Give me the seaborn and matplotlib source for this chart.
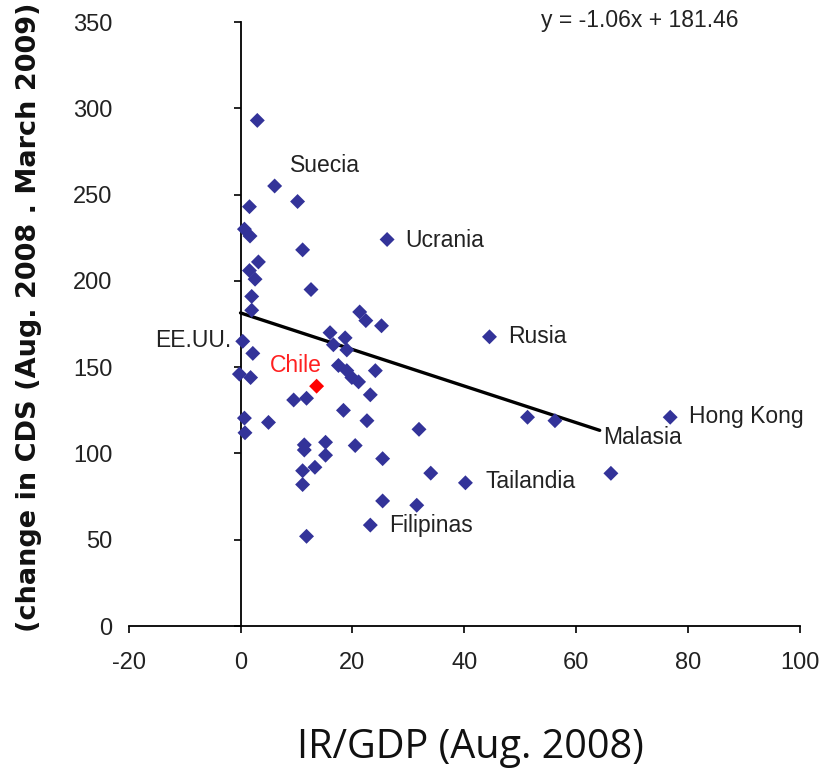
import matplotlib
matplotlib.use("Agg")
import matplotlib.pyplot as plt
import seaborn as sns
import pandas as pd

# ---- data ----
ir_gdp = [3.0, 6.1, 10.2, 1.6, 0.7, 1.7, 26.2, 11.1, 3.2, 1.6, 2.6, 12.6, 2.0, 2.0,
          21.3, 22.4, 25.2, 16.0, 18.7, 16.6, 19.0, 0.4, 2.2, -0.2, 1.8, 17.5, 19.0,
          19.9, 21.1, 24.1, 9.5, 11.8, 23.2, 18.4, 0.7, 5.0, 22.6, 0.8, 31.9, 11.4,
          11.4, 15.2, 15.2, 20.5, 25.4, 34.0, 13.3, 11.1, 11.1, 25.4, 31.5, 23.2,
          11.8, 44.5, 51.3, 56.2, 40.2, 66.2, 76.8]
cds_change = [293, 255, 246, 243, 230, 226, 224, 218, 211, 206, 201, 195, 191, 183,
              182, 177, 174, 170, 167, 163, 160, 165, 158, 146, 144, 151, 148,
              144, 141.5, 148, 131, 132, 134, 125, 120.5, 118, 119, 112, 114, 105,
              102, 106.5, 99, 104.6, 97, 88.6, 92, 90, 82, 72.5, 70, 58.5,
              52, 167.6, 121, 119, 83, 88.5, 121]
chile_x = [13.6]
chile_y = [139]

label_names = ["Suecia", "Ucrania", "EE.UU.", "Rusia", "Hong Kong", "Malasia",
               "Tailandia", "Filipinas"]
label_x = [8.9, 29.5, -1.6, 47.9, 80.2, 64.8, 43.75, 26.6]
label_y = [267, 223.6, 165.7, 168, 121.7, 109, 84, 58.5]
label_ha = ["left", "left", "right", "left", "left", "left", "left", "left"]

slope, intercept = -1.06, 181.46
trend_x = [0, 64.2]
trend_y = [slope * v + intercept for v in trend_x]

x_ticks = [-20, 0, 20, 40, 60, 80, 100]
y_ticks = [0, 50, 100, 150, 200, 250, 300, 350]

# ---- style ----
sns.set_style("white")
plt.rcParams["font.family"] = ["Liberation Sans", "DejaVu Sans"]

fig = plt.figure(figsize=(8.25, 7.71), dpi=100)
ax = fig.add_axes([0.1559, 0.188, 0.8138, 0.7834])

df = pd.DataFrame({"x": ir_gdp, "y": cds_change})
sns.scatterplot(data=df, x="x", y="y", marker="D", s=58, color="#333399",
                edgecolor="none", ax=ax, zorder=3)
sns.scatterplot(x=chile_x, y=chile_y, marker="D", s=58, color="#FF0000",
                edgecolor="none", ax=ax, zorder=4)
sns.lineplot(x=trend_x, y=trend_y, color="black", linewidth=2.4, ax=ax, zorder=2)

for name, lx, ly, ha in zip(label_names, label_x, label_y, label_ha):
    ax.text(lx, ly, name, ha=ha, va="center", fontsize=16.5, color="#222222")
ax.text(9.8, 151, "Chile", ha="center", va="center", fontsize=16.5, color="#FF2020")
ax.text(71.3, 351, "y = -1.06x + 181.46", ha="center", va="center", fontsize=16.5,
        color="#222222")

ax.set_xlim(-20, 100)
ax.set_ylim(0, 350)
ax.set_xticks(x_ticks)
ax.set_yticks(y_ticks)
ax.set_xticklabels([str(t) for t in x_ticks])
ax.set_yticklabels([str(t) for t in y_ticks])

for s in ["top", "right"]:
    ax.spines[s].set_visible(False)
ax.spines["left"].set_position(("data", 0))
ax.spines["left"].set_color("black")
ax.spines["bottom"].set_color("black")
ax.spines["left"].set_linewidth(1.3)
ax.spines["bottom"].set_linewidth(1.3)

ax.tick_params(axis="y", direction="out", length=5, width=1.2, color="black",
               pad=87, labelsize=17, labelcolor="#222222", left=True)
ax.tick_params(axis="x", direction="out", length=5, width=1.2, color="black",
               pad=14, labelsize=17, labelcolor="#222222", bottom=True)
ax.set_xlabel("")
ax.set_ylabel("")

fig.text(0.035, 0.588, "(change in CDS (Aug. 2008 . March 2009)", rotation=90,
         ha="center", va="center", fontsize=19.5, fontweight="bold",
         family=["DejaVu Sans"], color="#111111")
fig.text(470 / 825, 1 - 748 / 771, "IR/GDP (Aug. 2008)", ha="center", va="center",
         fontsize=28.5, family=["Open Sans", "DejaVu Sans"], color="#111111")

fig.savefig("out.png", dpi=100)
